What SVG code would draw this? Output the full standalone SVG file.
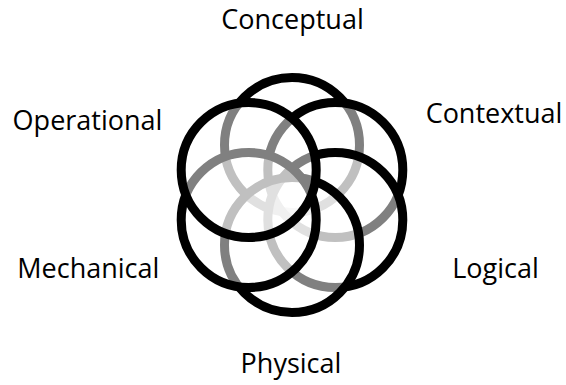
<svg xmlns="http://www.w3.org/2000/svg" width="566" height="385" viewBox="0 0 566 385">
<style>
.ring{fill:#fff;fill-opacity:0.5;stroke:#000;stroke-width:9}
.lbl{font-family:"Open Sans","Noto Sans",sans-serif;font-size:27px;fill:#000;text-anchor:middle}
</style>
<rect width="566" height="385" fill="#fff"/>
<g id="rings">
<g id="conceptual"><circle class="ring" cx="292" cy="145" r="67.5"/></g>
<g id="contextual"><circle class="ring" cx="335.3" cy="170" r="67.5"/></g>
<g id="logical"><circle class="ring" cx="335.3" cy="220" r="67.5"/></g>
<g id="physical"><circle class="ring" cx="292" cy="245" r="67.5"/></g>
<g id="mechanical"><circle class="ring" cx="248.7" cy="220" r="67.5"/></g>
<g id="operational"><circle class="ring" cx="248.7" cy="170" r="67.5"/></g>
</g>
<g id="labels">
<text class="lbl" x="292.5" y="29">Conceptual</text>
<text class="lbl" x="494" y="123">Contextual</text>
<text class="lbl" x="495.5" y="278">Logical</text>
<text class="lbl" x="291" y="373">Physical</text>
<text class="lbl" x="88.3" y="278">Mechanical</text>
<text class="lbl" x="87.5" y="130">Operational</text>
</g>
</svg>
